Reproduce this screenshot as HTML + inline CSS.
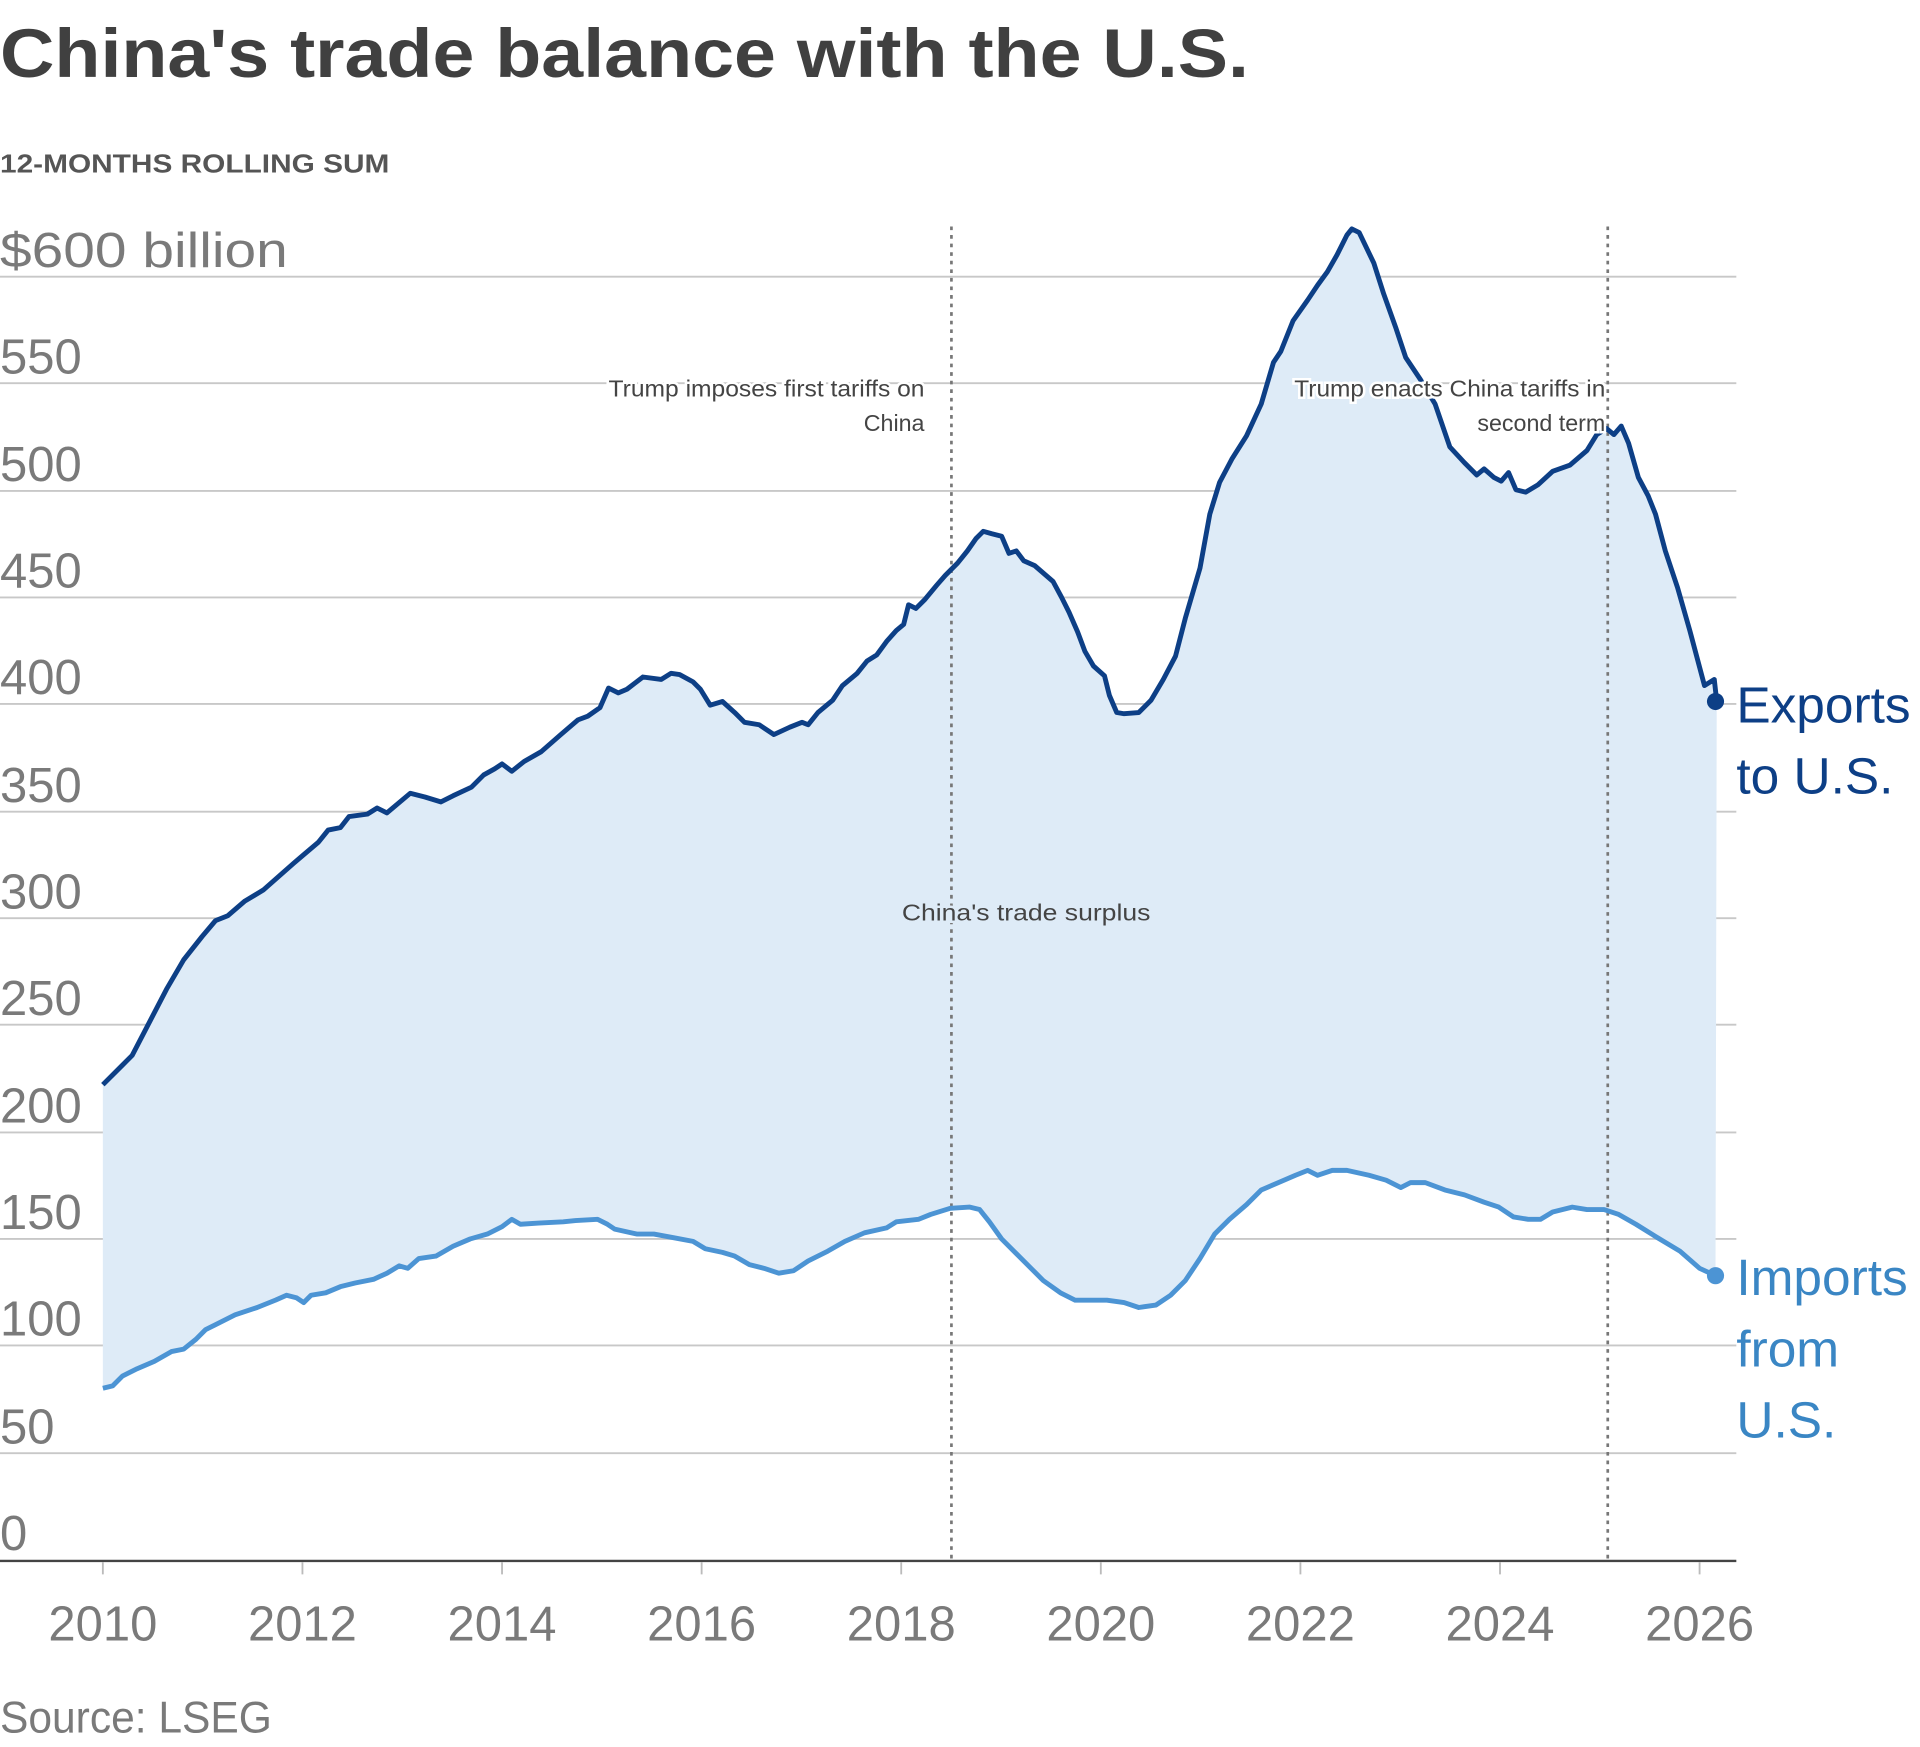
<!DOCTYPE html>
<html><head><meta charset="utf-8"><style>html,body{margin:0;padding:0;background:#fff}svg{display:block}</style></head>
<body>
<svg width="1920" height="1747" viewBox="0 0 1568 1427" preserveAspectRatio="none" xmlns="http://www.w3.org/2000/svg" font-family="Liberation Sans, sans-serif">
<text x="0" y="63" font-size="56" font-weight="bold" fill="#404040" textLength="1020" lengthAdjust="spacingAndGlyphs">China's trade balance with the U.S.</text>
<text x="0" y="141" font-size="21" font-weight="bold" fill="#555" textLength="318" lengthAdjust="spacingAndGlyphs">12-MONTHS ROLLING SUM</text>
<g stroke="#c8c8c8" stroke-width="1.5">
<line x1="0" x2="1418" y1="226" y2="226"/><line x1="0" x2="1418" y1="313" y2="313"/><line x1="0" x2="1418" y1="401" y2="401"/><line x1="0" x2="1418" y1="488" y2="488"/><line x1="0" x2="1418" y1="575" y2="575"/><line x1="0" x2="1418" y1="663" y2="663"/><line x1="0" x2="1418" y1="750" y2="750"/><line x1="0" x2="1418" y1="837" y2="837"/><line x1="0" x2="1418" y1="925" y2="925"/><line x1="0" x2="1418" y1="1012" y2="1012"/><line x1="0" x2="1418" y1="1099" y2="1099"/><line x1="0" x2="1418" y1="1187" y2="1187"/>
</g>
<g font-size="40" fill="#7a7a7a">
<text x="0" y="218" textLength="235" lengthAdjust="spacingAndGlyphs">$600 billion</text><text x="0" y="305">550</text><text x="0" y="393">500</text><text x="0" y="480">450</text><text x="0" y="567">400</text><text x="0" y="655">350</text><text x="0" y="742">300</text><text x="0" y="829">250</text><text x="0" y="917">200</text><text x="0" y="1004">150</text><text x="0" y="1091">100</text><text x="0" y="1179">50</text><text x="0" y="1266">0</text>
</g>
<polygon fill="#deebf7" points="84,886 100,870 108,862 122,835 136,808 150,784 165,765 176,752 186,748 200,736 215,727 232,712 240,705 247,699 260,688 268,678 278,676 285,667 300,665 308,660 316,664 335,648 347,651 360,655 370,650 385,643 395,633 404,628 410,624 418,630 428,622 442,614 458,600 472,588 480,585 490,578 497,562 505,566 512,563 525,553 540,555 548,550 555,551 566,557 572,563 580,576 590,573 600,582 608,590 620,592 632,600 645,594 655,590 660,592 668,582 680,572 688,560 700,550 708,540 716,535 724,524 732,515 738,510 742,494 748,497 755,490 765,478 772,470 782,460 790,450 797,440 803,434 810,436 818,438 824,452 830,450 836,458 845,462 860,475 867,488 873,500 880,516 886,532 893,544 902,552 906,568 912,582 918,583 930,582 940,572 950,555 960,536 968,505 980,464 988,420 996,394 1006,375 1018,356 1030,330 1040,296 1046,287 1056,262 1068,245 1076,233 1084,222 1092,208 1100,192 1104,187 1110,190 1122,215 1130,240 1140,268 1148,292 1160,310 1172,330 1184,365 1196,378 1206,388 1212,383 1220,390 1226,393 1232,386 1238,400 1246,402 1256,396 1268,385 1282,380 1296,368 1304,355 1312,350 1318,355 1324,348 1330,362 1338,390 1346,405 1352,420 1360,450 1370,480 1380,515 1388,545 1392,560 1400,555 1402,573 1401,1042 1388,1036 1372,1022 1352,1010 1336,1000 1322,992 1310,988 1296,988 1284,986 1268,990 1258,996 1248,996 1236,994 1224,986 1212,982 1196,976 1180,972 1164,966 1152,966 1144,970 1132,964 1118,960 1100,956 1088,956 1076,960 1068,956 1058,960 1044,966 1030,972 1018,984 1004,996 992,1008 980,1028 968,1046 956,1058 944,1066 930,1068 918,1064 904,1062 892,1062 878,1062 866,1056 852,1046 842,1036 830,1024 818,1012 808,998 800,988 792,986 776,987 760,992 750,996 732,998 724,1003 706,1007 690,1014 676,1022 660,1030 648,1038 636,1040 624,1036 612,1033 600,1026 590,1023 576,1020 566,1014 550,1011 534,1008 520,1008 502,1004 496,1000 488,996 470,997 460,998 440,999 425,1000 418,996 410,1002 398,1008 384,1012 370,1018 356,1026 342,1028 333,1036 326,1034 316,1040 305,1045 290,1048 278,1051 266,1056 254,1058 248,1064 242,1060 234,1058 225,1062 210,1068 192,1074 176,1082 168,1086 160,1094 150,1102 140,1104 126,1112 112,1118 100,1124 92,1132 84,1134"/>
<g stroke="#777" stroke-width="2.2" stroke-dasharray="3,4">
<line x1="777" x2="777" y1="185" y2="1274"/><line x1="1313" x2="1313" y1="185" y2="1274"/>
</g>
<line x1="0" x2="1418" y1="1275" y2="1275" stroke="#444" stroke-width="2"/>
<g stroke="#bbb" stroke-width="1.5">
<line x1="84" x2="84" y1="1276" y2="1286"/><line x1="247" x2="247" y1="1276" y2="1286"/><line x1="410" x2="410" y1="1276" y2="1286"/><line x1="573" x2="573" y1="1276" y2="1286"/><line x1="736" x2="736" y1="1276" y2="1286"/><line x1="899" x2="899" y1="1276" y2="1286"/><line x1="1062" x2="1062" y1="1276" y2="1286"/><line x1="1225" x2="1225" y1="1276" y2="1286"/><line x1="1388" x2="1388" y1="1276" y2="1286"/>
</g>
<g font-size="40" fill="#7a7a7a" text-anchor="middle">
<text x="84" y="1340">2010</text><text x="247" y="1340">2012</text><text x="410" y="1340">2014</text><text x="573" y="1340">2016</text><text x="736" y="1340">2018</text><text x="899" y="1340">2020</text><text x="1062" y="1340">2022</text><text x="1225" y="1340">2024</text><text x="1388" y="1340">2026</text>
</g>
<polyline fill="none" stroke="#0d3f86" stroke-width="4" stroke-linejoin="round" points="84,886 100,870 108,862 122,835 136,808 150,784 165,765 176,752 186,748 200,736 215,727 232,712 240,705 247,699 260,688 268,678 278,676 285,667 300,665 308,660 316,664 335,648 347,651 360,655 370,650 385,643 395,633 404,628 410,624 418,630 428,622 442,614 458,600 472,588 480,585 490,578 497,562 505,566 512,563 525,553 540,555 548,550 555,551 566,557 572,563 580,576 590,573 600,582 608,590 620,592 632,600 645,594 655,590 660,592 668,582 680,572 688,560 700,550 708,540 716,535 724,524 732,515 738,510 742,494 748,497 755,490 765,478 772,470 782,460 790,450 797,440 803,434 810,436 818,438 824,452 830,450 836,458 845,462 860,475 867,488 873,500 880,516 886,532 893,544 902,552 906,568 912,582 918,583 930,582 940,572 950,555 960,536 968,505 980,464 988,420 996,394 1006,375 1018,356 1030,330 1040,296 1046,287 1056,262 1068,245 1076,233 1084,222 1092,208 1100,192 1104,187 1110,190 1122,215 1130,240 1140,268 1148,292 1160,310 1172,330 1184,365 1196,378 1206,388 1212,383 1220,390 1226,393 1232,386 1238,400 1246,402 1256,396 1268,385 1282,380 1296,368 1304,355 1312,350 1318,355 1324,348 1330,362 1338,390 1346,405 1352,420 1360,450 1370,480 1380,515 1388,545 1392,560 1400,555 1402,573"/>
<polyline fill="none" stroke="#4c94d4" stroke-width="4" stroke-linejoin="round" points="84,1134 92,1132 100,1124 112,1118 126,1112 140,1104 150,1102 160,1094 168,1086 176,1082 192,1074 210,1068 225,1062 234,1058 242,1060 248,1064 254,1058 266,1056 278,1051 290,1048 305,1045 316,1040 326,1034 333,1036 342,1028 356,1026 370,1018 384,1012 398,1008 410,1002 418,996 425,1000 440,999 460,998 470,997 488,996 496,1000 502,1004 520,1008 534,1008 550,1011 566,1014 576,1020 590,1023 600,1026 612,1033 624,1036 636,1040 648,1038 660,1030 676,1022 690,1014 706,1007 724,1003 732,998 750,996 760,992 776,987 792,986 800,988 808,998 818,1012 830,1024 842,1036 852,1046 866,1056 878,1062 892,1062 904,1062 918,1064 930,1068 944,1066 956,1058 968,1046 980,1028 992,1008 1004,996 1018,984 1030,972 1044,966 1058,960 1068,956 1076,960 1088,956 1100,956 1118,960 1132,964 1144,970 1152,966 1164,966 1180,972 1196,976 1212,982 1224,986 1236,994 1248,996 1258,996 1268,990 1284,986 1296,988 1310,988 1322,992 1336,1000 1352,1010 1372,1022 1388,1036 1401,1042"/>
<circle cx="1401" cy="573" r="7" fill="#0d3f86"/>
<circle cx="1401" cy="1042" r="7" fill="#4c94d4"/>
<g font-size="19" fill="#444" text-anchor="end" stroke="#fff" stroke-width="4" paint-order="stroke">
<text x="755" y="324" textLength="258" lengthAdjust="spacingAndGlyphs">Trump imposes first tariffs on</text><text x="755" y="352">China</text>
<text x="1311" y="324" textLength="254" lengthAdjust="spacingAndGlyphs">Trump enacts China tariffs in</text><text x="1311" y="352">second term</text>
</g>
<text x="838" y="752" font-size="19" fill="#444" text-anchor="middle" textLength="203" lengthAdjust="spacingAndGlyphs" stroke="#deebf7" stroke-width="4" paint-order="stroke">China's trade surplus</text>
<g font-size="42" fill="#0d3f86"><text x="1418" y="590">Exports</text><text x="1418" y="648">to U.S.</text></g>
<g font-size="42" fill="#3a86c4"><text x="1418" y="1058">Imports</text><text x="1418" y="1116">from</text><text x="1418" y="1174">U.S.</text></g>
<text x="0" y="1415" font-size="36" fill="#7a7a7a" textLength="222" lengthAdjust="spacingAndGlyphs">Source: LSEG</text>
</svg>
</body></html>
